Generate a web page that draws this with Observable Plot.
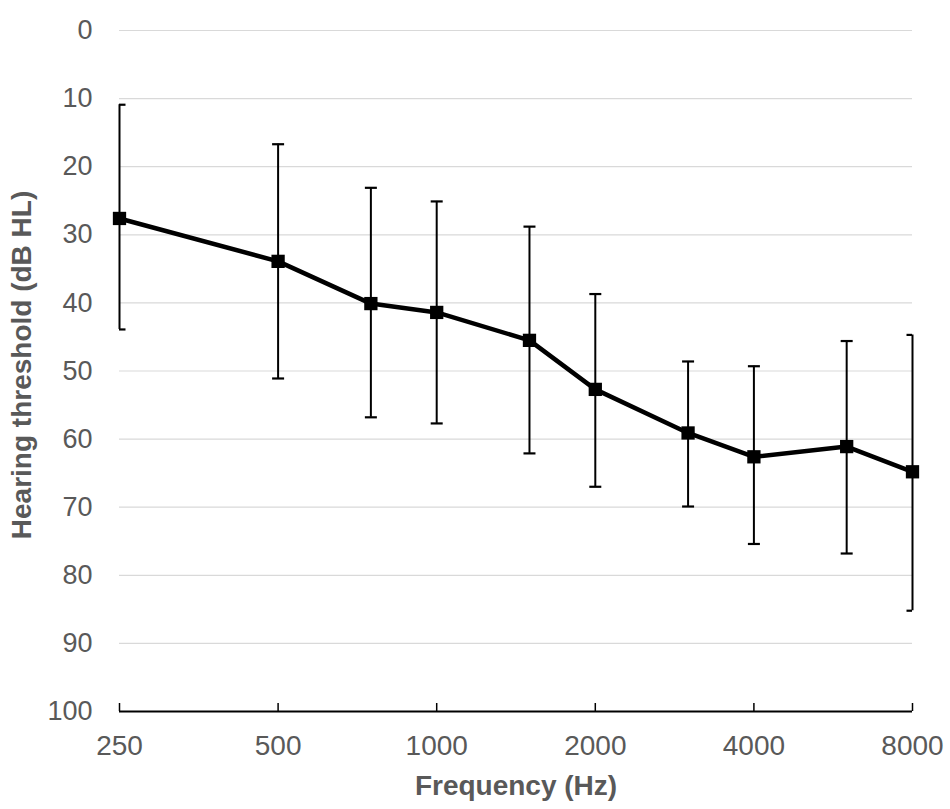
<!DOCTYPE html>
<html>
<head>
<meta charset="utf-8">
<script src="https://cdn.jsdelivr.net/npm/d3@7"></script>
<script src="https://cdn.jsdelivr.net/npm/@observablehq/plot@0.6"></script>
<style>
  html, body { margin: 0; padding: 0; background: #ffffff; }
  #chart svg { display: block; }
</style>
</head>
<body>
<div id="chart"></div>
<script>
// Frequencies (Hz)
const frequencies = [250, 500, 750, 1000, 1500, 2000, 3000, 4000, 6000, 8000];
// Mean hearing threshold (dB HL)
const meanThreshold = [27.6, 33.9, 40.1, 41.4, 45.5, 52.7, 59.1, 62.6, 61.1, 64.8];
// Error bar ends (dB HL)
const barTop = [10.9, 16.7, 23.1, 25.1, 28.8, 38.7, 48.6, 49.3, 45.6, 44.7];
const barBottom = [43.9, 51.1, 56.8, 57.7, 62.1, 67.0, 69.9, 75.4, 76.8, 85.2];

const xTicks = [250, 500, 1000, 2000, 4000, 8000];
const yTicks = [0, 10, 20, 30, 40, 50, 60, 70, 80, 90, 100];
const xTitle = "Frequency (Hz)";
const yTitle = "Hearing threshold (dB HL)";

const data = frequencies.map((f, i) => ({
  f, mean: meanThreshold[i], top: barTop[i], bottom: barBottom[i]
}));

const capSymbol = {
  draw(ctx, size) {
    const r = Math.sqrt(size / Math.PI);
    ctx.moveTo(-r, 0);
    ctx.lineTo(r, 0);
  }
};

const W = 950, H = 809;
const mTop = 30, mBottom = 98, mLeft = 119, mRight = 38;
const frameH = H - mTop - mBottom;

const chart = Plot.plot({
  width: W,
  height: H,
  marginTop: mTop,
  marginBottom: mBottom,
  marginLeft: mLeft,
  marginRight: mRight,
  style: {
    fontFamily: "'Liberation Sans', Arial, sans-serif",
    background: "#ffffff",
    color: "#595959"
  },
  x: { type: "log", domain: [250, 8000], axis: null },
  y: { domain: [0, 100], reverse: true },
  marks: [
    Plot.gridY(yTicks.filter(d => d < 100), { stroke: "#d9d9d9", strokeOpacity: 1, strokeWidth: 1.2 }),
    Plot.axisY({
      ticks: yTicks, tickSize: 0, tickPadding: 27, fontSize: 27,
      fill: "#595959", label: null, tickFormat: d => String(d)
    }),
    Plot.text(xTicks, {
      x: d => d, text: d => String(d), frameAnchor: "bottom", lineAnchor: "middle",
      dy: 35, fontSize: 28, fill: "#595959"
    }),
    Plot.ruleX(data, { x: "f", y1: "top", y2: "bottom", stroke: "#000000", strokeWidth: 2 }),
    Plot.dot(data, { x: "f", y: "top", symbol: capSymbol, r: 6, fill: "none", stroke: "#000000", strokeWidth: 2.2, clip: true }),
    Plot.dot(data, { x: "f", y: "bottom", symbol: capSymbol, r: 6, fill: "none", stroke: "#000000", strokeWidth: 2.2, clip: true }),
    Plot.line(data, { x: "f", y: "mean", stroke: "#000000", strokeWidth: 4.5 }),
    Plot.dot(data, { x: "f", y: "mean", symbol: "square", r: 7.5, fill: "#000000", stroke: "none" }),
    Plot.ruleX(xTicks, { x: d => d, insetTop: frameH - 8, stroke: "#000000", strokeWidth: 1.5 }),
    Plot.ruleY([100], { stroke: "#000000", strokeWidth: 2 }),
    Plot.text([xTitle], {
      text: d => d, frameAnchor: "bottom", lineAnchor: "middle", textAnchor: "middle",
      dy: 75, fontSize: 28, fontWeight: "bold", fill: "#595959"
    }),
    Plot.text([yTitle], {
      text: d => d, frameAnchor: "left", textAnchor: "middle", lineAnchor: "middle",
      dx: -97, dy: -6, rotate: -90,
      fontSize: 28, fontWeight: "bold", fill: "#595959"
    })
  ]
});

document.getElementById("chart").appendChild(chart);
</script>
</body>
</html>
